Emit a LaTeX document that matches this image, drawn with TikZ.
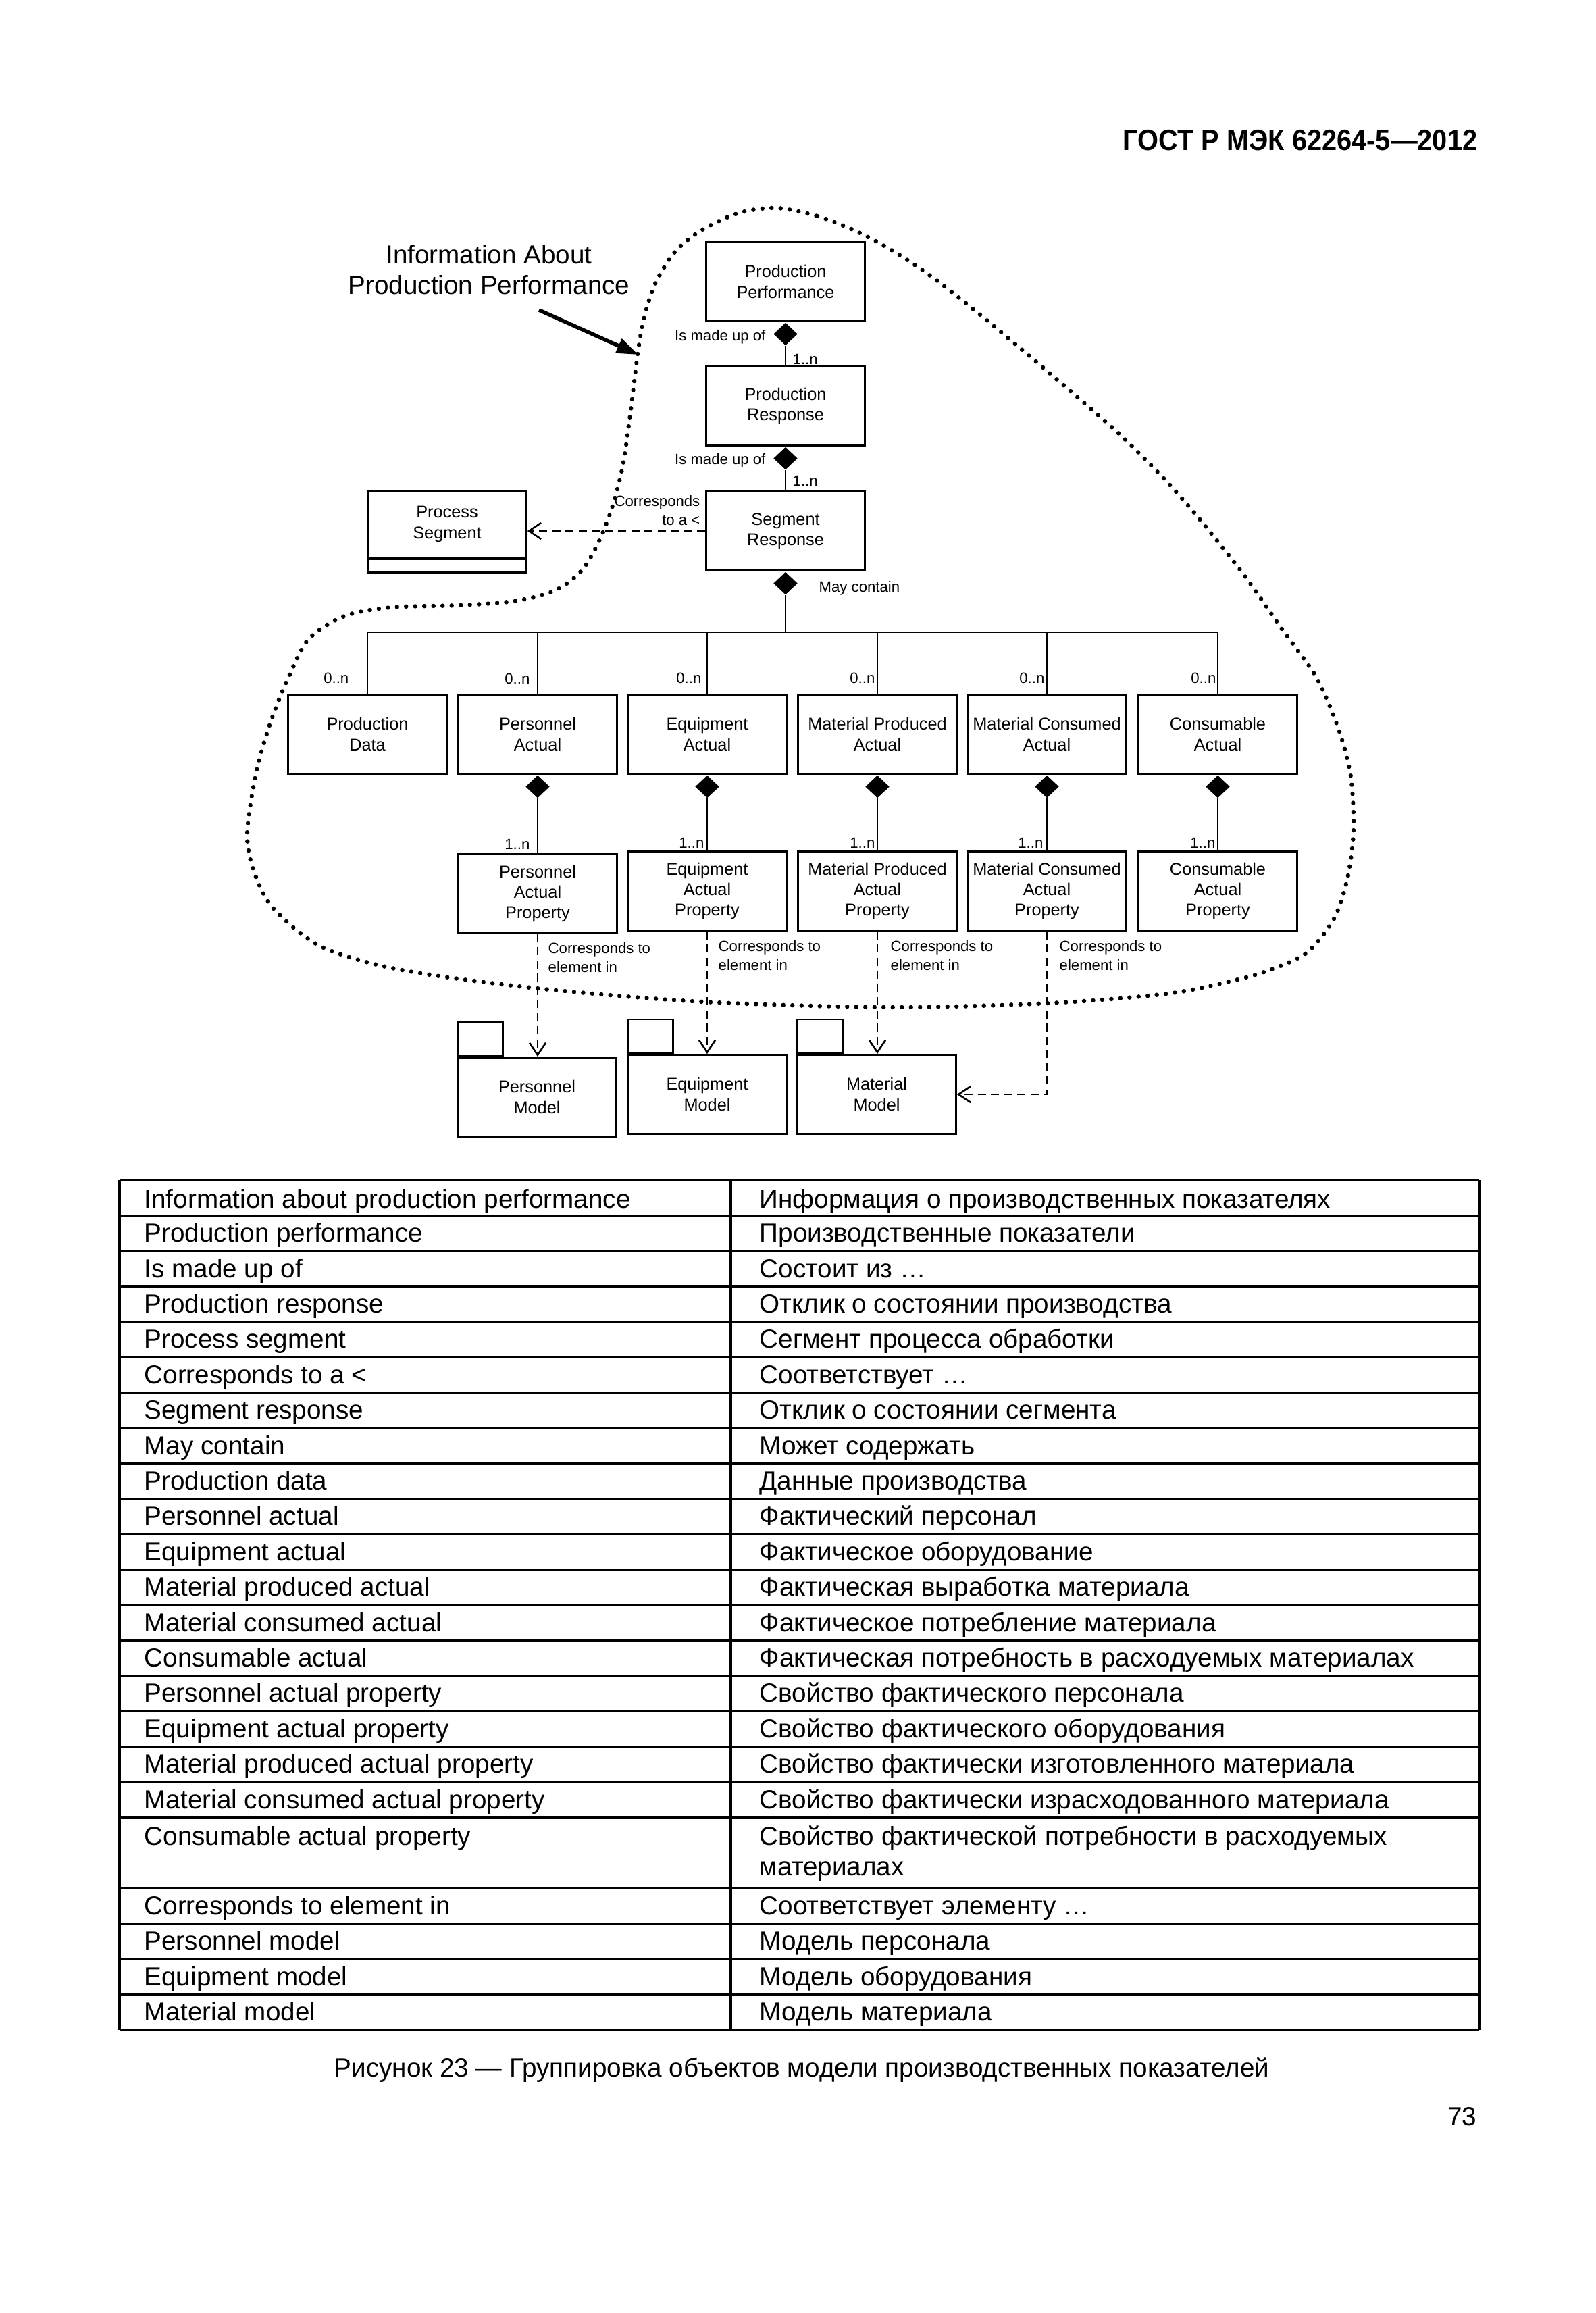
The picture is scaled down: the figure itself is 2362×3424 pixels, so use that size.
\documentclass[tikz,border=0pt]{standalone}
\usepackage{fontspec}
\setmainfont{Liberation Sans}
\usepackage{graphicx}
\usetikzlibrary{shapes.geometric,arrows.meta,positioning}

\begin{document}
\begin{tikzpicture}[x=0.1mm,y=-0.1mm,
  cls/.style={draw,line width=0.75pt,minimum width=23.5mm,minimum height=11.7mm,inner sep=0pt,align=center,font=\fontsize{7.2}{8.6}\selectfont},
  tab/.style={draw,line width=0.75pt,minimum width=6.7mm,minimum height=5mm,inner sep=0pt},
  agg/.style={diamond,fill=black,inner sep=0pt,minimum width=3.6mm,minimum height=3.4mm,anchor=north},
  lbl/.style={inner sep=0pt,font=\fontsize{6.3}{7.7}\selectfont},
  conn/.style={line width=0.75pt},
  dep/.style={line width=0.75pt,dash pattern=on 1.2mm off 0.75mm,-{Straight Barb[length=1.8mm,width=2.4mm]}},
  blob/.style={line width=0.65mm,line cap=round,dash pattern=on 0pt off 1.35mm},
  cell/.style={inner sep=0pt,anchor=base west,align=left,font=\fontsize{11}{13}\selectfont}]
  \fill[white] (0,0) rectangle (2362,3424);
  \useasboundingbox (0,0) rectangle (2362,3424);

  \node[anchor=base east,inner sep=0pt,font=\bfseries\fontsize{12.3}{14}\selectfont] (gost) at (2188,223) {\scalebox{0.92}[1]{ГОСТ Р МЭК 62264-5—2012}};

  \draw[blob] plot[smooth cycle,tension=0.5] coordinates {(1150,308) (1210,320) (1267,342) (1323,372) (1380,410) (1450,465) (1530,532) (1600,592) (1660,645) (1720,705) (1769,760) (1841,850) (1895,927) (1949,1003) (1982,1080) (2000,1150) (2004,1230) (1995,1300) (1975,1360) (1935,1410) (1880,1436) (1824,1452) (1728,1471) (1554,1485) (1318,1491) (1041,1483) (795,1463) (595,1436) (477,1402) (405,1345) (376,1290) (366,1233) (380,1140) (402,1065) (427,1003) (457,946) (510,912) (580,899) (680,896) (760,890) (820,875) (860,846) (885,805) (905,755) (922,690) (934,606) (944,525) (953,473) (970,420) (1000,372) (1040,340) (1095,315)};

  \node[align=center,inner sep=0pt,anchor=base,font=\fontsize{11}{13}\selectfont] (info) at (724,436) {Information About\\Production Performance};
  \coordinate (infotail) at (798,459);
  \coordinate (infotip) at (945,525);
  \draw[line width=1.6pt,-{Triangle[length=3.2mm,width=2.2mm]}] (infotail) -- (infotip);

  \node[cls] (pp) at (1163,417) {Production\\Performance};
  \node[cls] (pr) at (1163,601) {Production\\Response};
  \node[cls] (sr) at (1163,786) {Segment\\Response};
  \node[cls,minimum height=9.8mm] (ps) at (662,776) {Process\\Segment};
  \node[cls,minimum height=2mm,below=0pt of ps] (psattr) {};

  \node[agg] (ppd) at (pp.south) {};
  \node[agg] (prd) at (pr.south) {};
  \node[agg] (srd) at (sr.south) {};
  \draw[conn] (ppd.south) -- (pr.north);
  \draw[conn] (prd.south) -- (sr.north);
  \node[lbl,anchor=base east] (imu1) at (1134,505) {Is made up of};
  \node[lbl,anchor=base east] (imu2) at (1134,687) {Is made up of};
  \node[lbl,anchor=base west] (m1) at (1173,540) {1..n};
  \node[lbl,anchor=base west] (m2) at (1173,720) {1..n};
  \node[lbl,anchor=base east,align=right] (cta) at (1037,777) {Corresponds\\to a <};
  \draw[dep] (sr.west) -- (sr.west -| ps.east);
  \node[lbl,anchor=base west] (may) at (1212,876) {May contain};

  \node[cls] (pd) at (544,1087) {Production\\Data};
  \node[cls] (pa) at (796,1087) {Personnel\\Actual};
  \node[cls] (ea) at (1047,1087) {Equipment\\Actual};
  \node[cls] (mpa) at (1299,1087) {Material Produced\\Actual};
  \node[cls] (mca) at (1550,1087) {Material Consumed\\Actual};
  \node[cls] (ca) at (1803,1087) {Consumable\\Actual};

  \coordinate (bus) at (1163,936);
  \draw[conn] (srd.south) -- (bus);
  \draw[conn] (pd.north) |- (ca.north |- bus) -- (ca.north);
  \draw[conn] (pa.north) -- (pa.north |- bus);
  \draw[conn] (ea.north) -- (ea.north |- bus);
  \draw[conn] (mpa.north) -- (mpa.north |- bus);
  \draw[conn] (mca.north) -- (mca.north |- bus);
  \node[lbl,anchor=base east] (z1) at (517,1011) {0..n};
  \node[lbl,anchor=base east] (z2) at (785,1012) {0..n};
  \node[lbl,anchor=base east] (z3) at (1039,1011) {0..n};
  \node[lbl,anchor=base east] (z4) at (1296,1011) {0..n};
  \node[lbl,anchor=base east] (z5) at (1547,1011) {0..n};
  \node[lbl,anchor=base east] (z6) at (1801,1011) {0..n};

  \node[cls] (pap) at (796,1323) {Personnel\\Actual\\Property};
  \node[cls] (eap) at (1047,1319) {Equipment\\Actual\\Property};
  \node[cls] (mpap) at (1299,1319) {Material Produced\\Actual\\Property};
  \node[cls] (mcap) at (1550,1319) {Material Consumed\\Actual\\Property};
  \node[cls] (cap) at (1803,1319) {Consumable\\Actual\\Property};

  \node[agg] (pad) at (pa.south) {};
  \node[agg] (ead) at (ea.south) {};
  \node[agg] (mpad) at (mpa.south) {};
  \node[agg] (mcad) at (mca.south) {};
  \node[agg] (cad) at (ca.south) {};
  \draw[conn] (pad.south) -- (pap.north);
  \draw[conn] (ead.south) -- (eap.north);
  \draw[conn] (mpad.south) -- (mpap.north);
  \draw[conn] (mcad.south) -- (mcap.north);
  \draw[conn] (cad.south) -- (cap.north);
  \node[lbl,anchor=base east] (o1) at (785,1257) {1..n};
  \node[lbl,anchor=base east] (o2) at (1043,1255) {1..n};
  \node[lbl,anchor=base east] (o3) at (1296,1255) {1..n};
  \node[lbl,anchor=base east] (o4) at (1545,1255) {1..n};
  \node[lbl,anchor=base east] (o5) at (1800,1255) {1..n};

  \node[cls] (pm) at (795,1624) {Personnel\\Model};
  \node[cls] (em) at (1047,1620) {Equipment\\Model};
  \node[cls] (mm) at (1298,1620) {Material\\Model};
  \node[tab,above right=0pt of pm.north west] (pmtab) {};
  \node[tab,above right=0pt of em.north west] (emtab) {};
  \node[tab,above right=0pt of mm.north west] (mmtab) {};

  \draw[dep] (pap.south) -- (pap.south |- pm.north);
  \draw[dep] (eap.south) -- (eap.south |- em.north);
  \draw[dep] (mpap.south) -- (mpap.south |- mm.north);
  \draw[dep] (mcap.south) |- (mm.east);
  \node[lbl,anchor=base west,align=left] (ce1) at (811,1439) {Corresponds to\\element in};
  \node[lbl,anchor=base west,align=left] (ce2) at (1063,1436) {Corresponds to\\element in};
  \node[lbl,anchor=base west,align=left] (ce3) at (1318,1436) {Corresponds to\\element in};
  \node[lbl,anchor=base west,align=left] (ce4) at (1568,1436) {Corresponds to\\element in};

  \foreach \y in {1747,1799.4,1851.8,1904.2,1956.6,2009,2061.4,2113.8,2166.2,2218.6,2271,2323.4,2375.8,2428.2,2480.6,2533,2585.4,2637.8,2690.2,2795,2847.4,2899.8,2952.2,3004.6}
    \draw[line width=1pt] (177,\y) -- (2190,\y);
  \foreach \x in {177,1082,2190}
    \draw[line width=1pt] (\x,1747) -- (\x,3004.6);

  \node[cell] (e1) at (213,1788) {Information about production performance};
  \node[cell] (r1) at (1124,1788) {Информация о производственных показателях};
  \node[cell] (e2) at (213,1838.7) {Production performance};
  \node[cell] (r2) at (1124,1838.7) {Производственные показатели};
  \node[cell] (e3) at (213,1891.1) {Is made up of};
  \node[cell] (r3) at (1124,1891.1) {Состоит из …};
  \node[cell] (e4) at (213,1943.5) {Production response};
  \node[cell] (r4) at (1124,1943.5) {Отклик о состоянии производства};
  \node[cell] (e5) at (213,1995.9) {Process segment};
  \node[cell] (r5) at (1124,1995.9) {Сегмент процесса обработки};
  \node[cell] (e6) at (213,2048.3) {Corresponds to a <};
  \node[cell] (r6) at (1124,2048.3) {Соответствует …};
  \node[cell] (e7) at (213,2100.7) {Segment response};
  \node[cell] (r7) at (1124,2100.7) {Отклик о состоянии сегмента};
  \node[cell] (e8) at (213,2153.1) {May contain};
  \node[cell] (r8) at (1124,2153.1) {Может содержать};
  \node[cell] (e9) at (213,2205.5) {Production data};
  \node[cell] (r9) at (1124,2205.5) {Данные производства};
  \node[cell] (e10) at (213,2257.9) {Personnel actual};
  \node[cell] (r10) at (1124,2257.9) {Фактический персонал};
  \node[cell] (e11) at (213,2310.3) {Equipment actual};
  \node[cell] (r11) at (1124,2310.3) {Фактическое оборудование};
  \node[cell] (e12) at (213,2362.7) {Material produced actual};
  \node[cell] (r12) at (1124,2362.7) {Фактическая выработка материала};
  \node[cell] (e13) at (213,2415.1) {Material consumed actual};
  \node[cell] (r13) at (1124,2415.1) {Фактическое потребление материала};
  \node[cell] (e14) at (213,2467.5) {Consumable actual};
  \node[cell] (r14) at (1124,2467.5) {Фактическая потребность в расходуемых материалах};
  \node[cell] (e15) at (213,2519.9) {Personnel actual property};
  \node[cell] (r15) at (1124,2519.9) {Свойство фактического персонала};
  \node[cell] (e16) at (213,2572.3) {Equipment actual property};
  \node[cell] (r16) at (1124,2572.3) {Свойство фактического оборудования};
  \node[cell] (e17) at (213,2624.7) {Material produced actual property};
  \node[cell] (r17) at (1124,2624.7) {Свойство фактически изготовленного материала};
  \node[cell] (e18) at (213,2677.1) {Material consumed actual property};
  \node[cell] (r18) at (1124,2677.1) {Свойство фактически израсходованного материала};
  \node[cell] (e19) at (213,2731) {Consumable actual property};
  \node[cell] (r19) at (1124,2776.7) {Свойство фактической потребности в расходуемых\\материалах};
  \node[cell] (e20) at (213,2834.3) {Corresponds to element in};
  \node[cell] (r20) at (1124,2834.3) {Соответствует элементу …};
  \node[cell] (e21) at (213,2886.7) {Personnel model};
  \node[cell] (r21) at (1124,2886.7) {Модель персонала};
  \node[cell] (e22) at (213,2939.1) {Equipment model};
  \node[cell] (r22) at (1124,2939.1) {Модель оборудования};
  \node[cell] (e23) at (213,2991.5) {Material model};
  \node[cell] (r23) at (1124,2991.5) {Модель материала};

  \node[anchor=base,inner sep=0pt,font=\fontsize{11}{13}\selectfont] (caption) at (1187,3074) {Рисунок 23 — Группировка объектов модели производственных показателей};
  \node[anchor=base east,inner sep=0pt,font=\fontsize{11}{13}\selectfont] (pg) at (2187,3146) {73};
\end{tikzpicture}
\end{document}
